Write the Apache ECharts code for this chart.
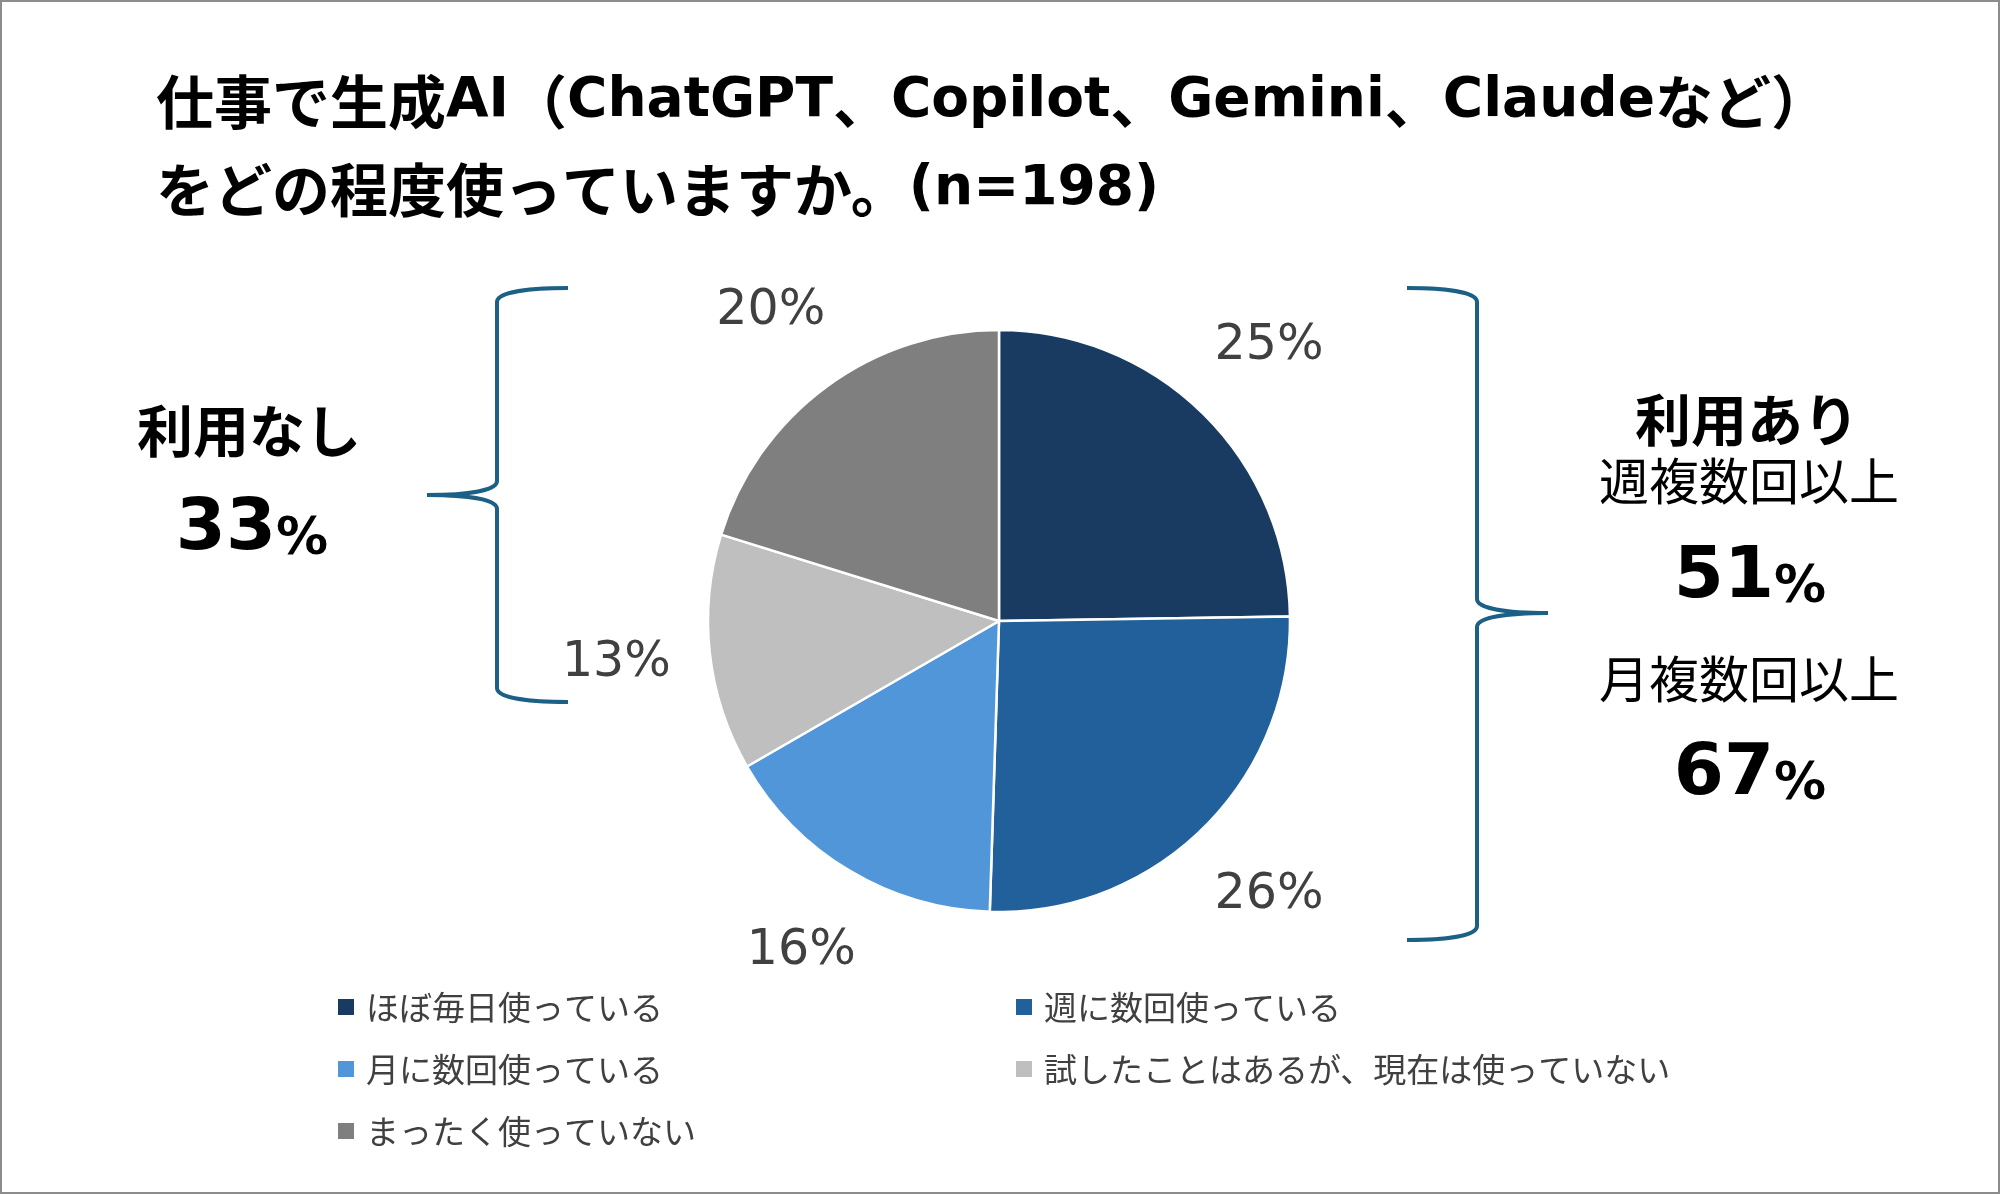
<!DOCTYPE html>
<html>
<head>
<meta charset="utf-8">
<script src="https://cdn.jsdelivr.net/npm/echarts@6.0.0/dist/echarts.min.js"></script>
<style>
  html, body { margin: 0; padding: 0; background: #fff; }
  #main { width: 2000px; height: 1194px; }
</style>
</head>
<body>
<div id="main"></div>
<script>
// 回答カテゴリと人数 (n=198)
var categories = ['ほぼ毎日使っている', '週に数回使っている', '月に数回使っている', '試したことはあるが、現在は使っていない', 'まったく使っていない'];
var counts = [49, 51, 32, 26, 40];
var sliceColors = ['#193b61', '#22609c', '#5296da', '#bfbfbf', '#7f7f7f'];
// 括弧の横の集計ラベル
var noUseRate = '33';
var weeklyRate = '51';
var monthlyRate = '67';

var jp = "'Noto Sans CJK JP'";
var pieData = [];
for (var i = 0; i < categories.length; i++) {
  pieData.push({ name: categories[i], value: counts[i] });
}

var myChart = echarts.init(document.getElementById('main'));

var braceStyle = { stroke: '#1c6085', lineWidth: 4, fill: null };

// 括弧を線と曲線でつなぐ
function brace(x0, xv, xp, yTop, yMid, yBot) {
  var els = [];
  var k = xv - x0;
  var m = xp - xv;
  els.push({ type: 'bezierCurve', shape: { x1: x0, y1: yTop, cpx1: x0 + k * 0.54, cpy1: yTop, cpx2: xv, cpy2: yTop + 4, x2: xv, y2: yTop + 14 }, style: braceStyle });
  els.push({ type: 'line', shape: { x1: xv, y1: yTop + 14, x2: xv, y2: yMid - 14 }, style: braceStyle });
  els.push({ type: 'bezierCurve', shape: { x1: xv, y1: yMid - 14, cpx1: xv, cpy1: yMid - 5, cpx2: xv + m * 0.39, cpy2: yMid, x2: xp, y2: yMid }, style: braceStyle });
  els.push({ type: 'bezierCurve', shape: { x1: xp, y1: yMid, cpx1: xv + m * 0.39, cpy1: yMid, cpx2: xv, cpy2: yMid + 5, x2: xv, y2: yMid + 14 }, style: braceStyle });
  els.push({ type: 'line', shape: { x1: xv, y1: yMid + 14, x2: xv, y2: yBot - 14 }, style: braceStyle });
  els.push({ type: 'bezierCurve', shape: { x1: xv, y1: yBot - 14, cpx1: xv, cpy1: yBot - 4, cpx2: x0 + k * 0.54, cpy2: yBot, x2: x0, y2: yBot }, style: braceStyle });
  return els;
}

var rateRich = {
  n: { fontFamily: "'DejaVu Sans'", fontWeight: 'bold', fontSize: 72, lineHeight: 72, verticalAlign: 'bottom', fill: '#000' },
  p: { fontFamily: "'DejaVu Sans'", fontWeight: 'bold', fontSize: 52, lineHeight: 60, verticalAlign: 'bottom', fill: '#000' }
};

var graphics = [
  { type: 'rect', shape: { x: 1, y: 1, width: 1998, height: 1192 }, style: { fill: null, stroke: '#8c8c8c', lineWidth: 2 }, silent: true },
  { type: 'text', x: 249, y: 431, style: { text: '利用なし', fontFamily: jp, fontWeight: 'bold', fontSize: 56, fill: '#000', align: 'center', verticalAlign: 'middle' } },
  { type: 'text', x: 252, y: 530, style: { text: '{n|' + noUseRate + '}{p|%}', align: 'center', verticalAlign: 'middle', rich: rateRich } },
  { type: 'text', x: 1747, y: 420, style: { text: '利用あり', fontFamily: jp, fontWeight: 'bold', fontSize: 56, fill: '#000', align: 'center', verticalAlign: 'middle' } },
  { type: 'text', x: 1749, y: 481, style: { text: '週複数回以上', fontFamily: jp, fontSize: 50, fill: '#000', align: 'center', verticalAlign: 'middle' } },
  { type: 'text', x: 1750, y: 578, style: { text: '{n|' + weeklyRate + '}{p|%}', align: 'center', verticalAlign: 'middle', rich: rateRich } },
  { type: 'text', x: 1749, y: 679, style: { text: '月複数回以上', fontFamily: jp, fontSize: 50, fill: '#000', align: 'center', verticalAlign: 'middle' } },
  { type: 'text', x: 1750, y: 775, style: { text: '{n|' + monthlyRate + '}{p|%}', align: 'center', verticalAlign: 'middle', rich: rateRich } }
];
graphics = graphics.concat(brace(568, 497, 427, 288, 495, 702));
graphics = graphics.concat(brace(1407, 1477, 1548, 288, 613, 940));

var legendText = { fontFamily: jp, fontSize: 33, lineHeight: 40, color: '#404040', padding: [0, 0, 0, 6] };

var option = {
  color: sliceColors,
  animation: false,
  title: {
    text: '{j|仕事で生成}{l|AI}{j|（}{l|ChatGPT}{j|、}{l|Copilot}{j|、}{l|Gemini}{j|、}{l|Claude}{j|など）}\n' +
          '{j|をどの程度使っていますか。}{l|(n=198)}',
    left: 156,
    top: 58,
    padding: 0,
    textStyle: {
      fontSize: 58,
      lineHeight: 88,
      color: '#000',
      rich: {
        j: { fontFamily: jp, fontWeight: 'bold', fontSize: 58, lineHeight: 88, color: '#000' },
        l: { fontFamily: "'DejaVu Sans'", fontWeight: 'bold', fontSize: 55, lineHeight: 88, color: '#000' }
      }
    }
  },
  legend: [{
    data: [categories[0], categories[2], categories[4]],
    orient: 'vertical',
    left: 336,
    top: 987,
    padding: 0,
    itemGap: 22,
    itemWidth: 18,
    itemHeight: 18,
    icon: 'rect',
    selectedMode: false,
    textStyle: legendText
  }, {
    data: [categories[1], categories[3]],
    orient: 'vertical',
    left: 1014,
    top: 987,
    padding: 0,
    itemGap: 22,
    itemWidth: 18,
    itemHeight: 18,
    icon: 'rect',
    selectedMode: false,
    textStyle: legendText
  }],
  series: [{
    type: 'pie',
    center: [999, 621],
    radius: [0, 291],
    startAngle: 90,
    clockwise: true,
    silent: true,
    data: pieData,
    itemStyle: { borderColor: '#fff', borderWidth: 2.5 },
    label: { show: false },
    labelLine: { show: false }
  }, {
    // 外側のパーセント表示用 (透明)
    type: 'pie',
    center: [999, 621],
    radius: [350, 414],
    startAngle: 90,
    clockwise: true,
    silent: true,
    data: pieData,
    itemStyle: { color: 'rgba(0,0,0,0)', borderWidth: 0 },
    label: {
      show: true,
      position: 'inside',
      formatter: function (p) { return Math.round(p.percent) + '%'; },
      fontFamily: "'DejaVu Sans'",
      fontSize: 49,
      color: '#404040'
    },
    labelLine: { show: false }
  }],
  graphic: graphics
};

myChart.setOption(option);
</script>
</body>
</html>
